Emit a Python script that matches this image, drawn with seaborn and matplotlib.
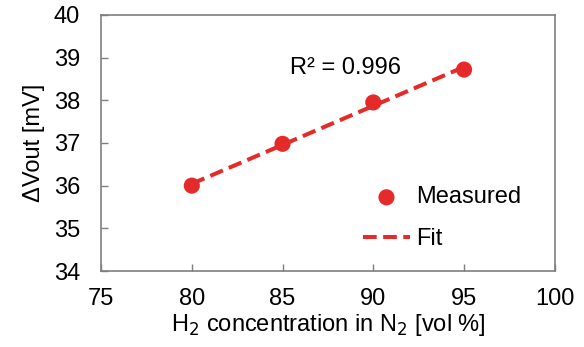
import numpy as np
import pandas as pd
import matplotlib
matplotlib.use("Agg")
import matplotlib.pyplot as plt
import seaborn as sns

h2_conc = [80, 85, 90, 95]
delta_vout = [36.0, 36.98, 37.95, 38.72]
r2_label = "R² = 0.996"

RED = "#e52a2a"
GREY = "#7f7f7f"
FS = 17

sns.set_theme(style="white")
plt.rcParams['font.family'] = ['Liberation Sans', 'DejaVu Sans']
plt.rcParams['text.color'] = "black"
plt.rcParams['axes.labelcolor'] = "black"

df = pd.DataFrame({"conc": h2_conc, "vout": delta_vout})
slope, intercept = np.polyfit(df["conc"], df["vout"], 1)
fit = pd.DataFrame({"conc": [min(h2_conc), max(h2_conc)]})
fit["vout"] = slope * fit["conc"] + intercept

fig, ax = plt.subplots(figsize=(5.84, 3.47), dpi=100)
fig.subplots_adjust(left=0.173, right=0.950, top=0.957, bottom=0.219)

sns.lineplot(ax=ax, data=fit, x="conc", y="vout", color=RED, linewidth=2.9,
             dashes=False, linestyle=(0, (3.4, 1.6)), label="Fit", zorder=2)
sns.scatterplot(ax=ax, data=df, x="conc", y="vout", color=RED, s=135,
                edgecolor="none", label="Measured", zorder=3)

ax.set_xlim(75, 100)
ax.set_ylim(34, 40)
ax.set_xticks(np.arange(75, 101, 5))
ax.set_yticks(np.arange(34, 41, 1))
ax.tick_params(axis="both", direction="in", length=5, width=1, color=GREY,
               labelsize=FS, labelcolor="black", bottom=True, left=True)
ax.tick_params(axis="x", pad=12)
ax.tick_params(axis="y", pad=15)
for s in ax.spines.values():
    s.set_color(GREY)
    s.set_linewidth(1.2)

ax.set_xlabel("H$_2$ concentration in N$_2$ [vol %]", fontsize=FS, labelpad=2)
ax.set_ylabel("ΔVout [mV]", fontsize=FS, labelpad=6)

ax.text(85.4, 38.76, r2_label, fontsize=FS, ha="left", va="center")

handles, labels = ax.get_legend_handles_labels()
order = [labels.index("Measured"), labels.index("Fit")]
ax.legend([handles[i] for i in order], [labels[i] for i in order],
          loc="upper left", bbox_to_anchor=(0.577, 0.33), frameon=False,
          borderpad=0, borderaxespad=0, fontsize=FS, handlelength=2.0,
          handletextpad=0.25, labelspacing=0.82)

fig.savefig("out.png", dpi=100)
